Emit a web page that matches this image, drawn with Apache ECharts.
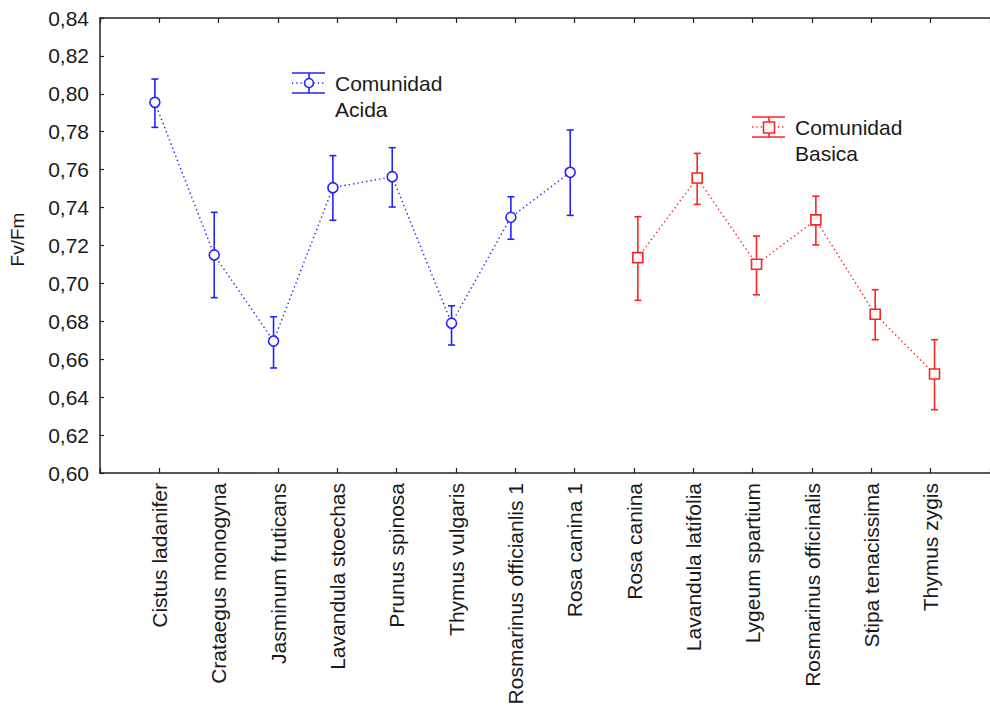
<!DOCTYPE html>
<html>
<head>
<meta charset="utf-8">
<title>Fv/Fm</title>
<script src="https://cdn.jsdelivr.net/npm/echarts@6/dist/echarts.min.js"></script>
<style>
  html, body { margin: 0; padding: 0; background: #fff; }
  #chart { width: 990px; height: 716px; }
</style>
</head>
<body>
<div id="chart"></div>
<script>
// especies (eje X)
const categories = [
  "Cistus ladanifer", "Crataegus monogyna", "Jasminum fruticans", "Lavandula stoechas",
  "Prunus spinosa", "Thymus vulgaris", "Rosmarinus officianlis 1", "Rosa canina 1",
  "Rosa canina", "Lavandula latifolia", "Lygeum spartium", "Rosmarinus officinalis",
  "Stipa tenacissima", "Thymus zygis"
];

// Comunidad Acida (posiciones 1-8)
const acidaIdx  = [1, 2, 3, 4, 5, 6, 7, 8];
const acidaMean = [0.7955, 0.7150, 0.6696, 0.7505, 0.7563, 0.6790, 0.7349, 0.7586];
const acidaLow  = [0.7823, 0.6925, 0.6554, 0.7333, 0.7403, 0.6675, 0.7233, 0.7359];
const acidaHigh = [0.8078, 0.7375, 0.6824, 0.7674, 0.7716, 0.6882, 0.7457, 0.7809];

// Comunidad Basica (posiciones 9-14)
const basicaIdx  = [9, 10, 11, 12, 13, 14];
const basicaMean = [0.7136, 0.7556, 0.7101, 0.7335, 0.6837, 0.6522];
const basicaLow  = [0.6911, 0.7417, 0.6940, 0.7203, 0.6703, 0.6334];
const basicaHigh = [0.7352, 0.7686, 0.7250, 0.7460, 0.6967, 0.6703];

// ticks del eje Y
const yMin = 0.60, yMax = 0.84, yStep = 0.02;

const blue = "#2323ff";
const red = "#ff2323";
const font = "Liberation Sans, Arial, sans-serif";
// desplazamiento de cada grupo respecto al tick (como en Statistica)
const shiftAcida = -0.075;
const shiftBasica = 0.065;

const chart = echarts.init(document.getElementById("chart"), null, { renderer: "svg" });

function errorBars(idx, low, high, shift) {
  return idx.map((x, i) => [x + shift, low[i], high[i]]);
}

function renderErrorBar(params, api) {
  const x = api.value(0);
  const lo = api.coord([x, api.value(1)]);
  const hi = api.coord([x, api.value(2)]);
  const cap = 3.5;
  const style = { stroke: api.visual("color"), lineWidth: 1.6 };
  return {
    type: "group",
    children: [
      { type: "line", shape: { x1: hi[0], y1: hi[1], x2: lo[0], y2: lo[1] }, style },
      { type: "line", shape: { x1: hi[0] - cap, y1: hi[1], x2: hi[0] + cap, y2: hi[1] }, style },
      { type: "line", shape: { x1: lo[0] - cap, y1: lo[1], x2: lo[0] + cap, y2: lo[1] }, style }
    ]
  };
}

const axisLine = { show: true, lineStyle: { color: "#222", width: 1.5 } };

// leyenda con el glifo de barra de error
function legendGroup(x, y, color, shape, label) {
  const ls = { stroke: color, lineWidth: 1.6 };
  const marker = shape === "circle"
    ? { type: "circle", shape: { cx: 17, cy: 10, r: 4.5 }, style: { fill: "#fff", stroke: color, lineWidth: 1.6 }, z: 2 }
    : { type: "rect", shape: { x: 11.5, y: 5, width: 11, height: 11 }, style: { fill: "#fff", stroke: color, lineWidth: 1.6 }, z: 2 };
  return {
    type: "group",
    x: x,
    y: y,
    children: [
      { type: "line", shape: { x1: 0, y1: 0, x2: 33, y2: 0 }, style: ls },
      { type: "line", shape: { x1: 0, y1: 20, x2: 33, y2: 20 }, style: ls },
      { type: "line", shape: { x1: 17, y1: 0, x2: 17, y2: 20 }, style: ls },
      { type: "line", shape: { x1: 0, y1: 10, x2: 33, y2: 10 }, style: { stroke: color, lineWidth: 1.3, lineDash: [1.3, 3] } },
      marker,
      {
        type: "text",
        x: 43,
        y: -3,
        style: { text: label, fontFamily: font, fontSize: 21, fill: "#1a1a1a", lineHeight: 26 }
      }
    ]
  };
}

const option = {
  animation: false,
  backgroundColor: "#fff",
  grid: { left: 99, top: 18, width: 900, height: 455 },
  xAxis: [
    {
      type: "value",
      position: "bottom",
      min: 0,
      max: categories.length + 1,
      interval: 1,
      axisLine: axisLine,
      axisTick: { show: true, inside: true, length: 5, lineStyle: { color: "#222", width: 1.2 } },
      axisLabel: {
        rotate: 90,
        margin: 10,
        fontFamily: font,
        fontSize: 21,
        color: "#1a1a1a",
        formatter: (v) => categories[v - 1] || ""
      },
      splitLine: { show: false }
    },
    {
      type: "value",
      position: "top",
      min: 0,
      max: categories.length + 1,
      interval: 1,
      axisLine: axisLine,
      axisTick: { show: true, inside: true, length: 5, lineStyle: { color: "#222", width: 1.2 } },
      axisLabel: { show: false },
      splitLine: { show: false }
    }
  ],
  yAxis: {
    type: "value",
    min: yMin,
    max: yMax,
    interval: yStep,
    name: "Fv/Fm",
    nameLocation: "middle",
    nameGap: 73,
    nameTextStyle: { fontFamily: font, fontSize: 19, color: "#1a1a1a", padding: [0, 0, 0, 12] },
    axisLine: axisLine,
    axisTick: { show: true, inside: true, length: 4, lineStyle: { color: "#222", width: 1.2 } },
    axisLabel: {
      margin: 11,
      fontFamily: font,
      fontSize: 21,
      color: "#1a1a1a",
      formatter: (v) => v.toFixed(2).replace(".", ",")
    },
    splitLine: { show: false }
  },
  series: [
    {
      name: "Comunidad Acida",
      type: "line",
      data: acidaIdx.map((x, i) => [x + shiftAcida, acidaMean[i]]),
      symbol: "circle",
      symbolSize: 10,
      color: blue,
      lineStyle: { type: [1.4, 3], width: 1.4, color: blue },
      itemStyle: { color: "#fff", borderColor: blue, borderWidth: 1.6 },
      z: 3
    },
    {
      type: "custom",
      data: errorBars(acidaIdx, acidaLow, acidaHigh, shiftAcida),
      renderItem: renderErrorBar,
      itemStyle: { color: blue },
      z: 2
    },
    {
      name: "Comunidad Basica",
      type: "line",
      data: basicaIdx.map((x, i) => [x + shiftBasica, basicaMean[i]]),
      symbol: "rect",
      symbolSize: 10,
      color: red,
      lineStyle: { type: [1.4, 3], width: 1.4, color: red },
      itemStyle: { color: "#fff", borderColor: red, borderWidth: 1.6 },
      z: 3
    },
    {
      type: "custom",
      data: errorBars(basicaIdx, basicaLow, basicaHigh, shiftBasica),
      renderItem: renderErrorBar,
      itemStyle: { color: red },
      z: 2
    }
  ],
  graphic: [
    legendGroup(292, 73, blue, "circle", "Comunidad\nAcida"),
    legendGroup(752, 117, red, "rect", "Comunidad\nBasica")
  ]
};

chart.setOption(option);
</script>
</body>
</html>
